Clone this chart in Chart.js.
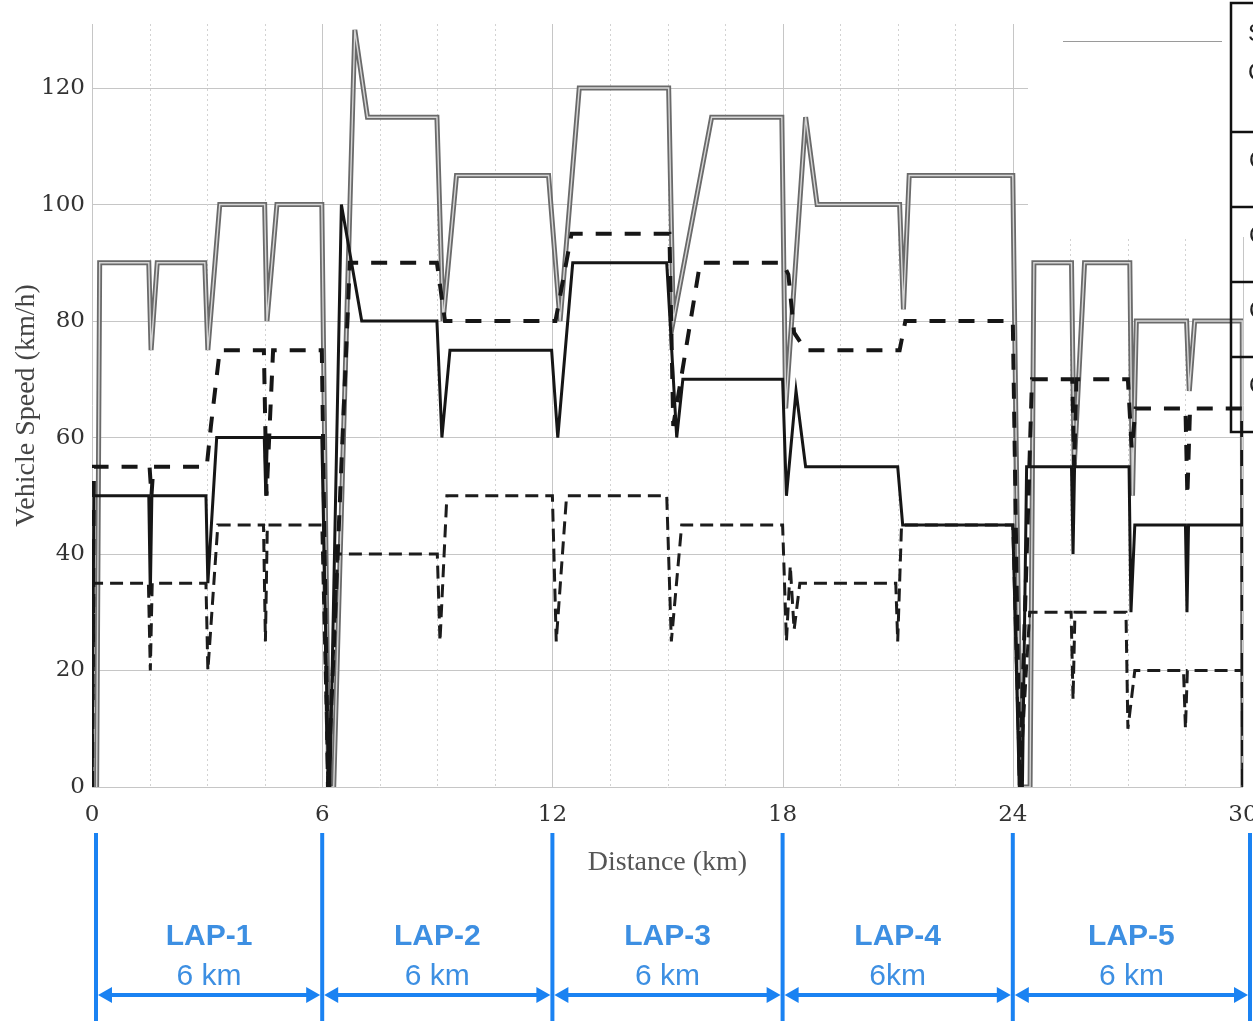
<!DOCTYPE html>
<html>
<head>
<meta charset="utf-8">
<title>Vehicle speed over five laps</title>
<script src="https://cdn.jsdelivr.net/npm/chart.js@4.4.1/dist/chart.umd.min.js"></script>
<style>
  html, body { margin: 0; padding: 0; background: #ffffff; }
  #wrap { width: 1253px; height: 1023px; position: relative; }
</style>
</head>
<body>
<div id="wrap"><canvas id="speedChart" width="1253" height="1023"></canvas></div>
<script>
// ---- Data (distance in km, speed in km/h) ----
// Upper speed profile (grey double line)
const upperDist  = [0.12, 0.2, 1.48, 1.54, 1.7, 2.94, 3.02, 3.33, 4.5, 4.56, 4.82, 5.99, 6.17, 6.3, 6.85, 7.18, 8.99, 9.15, 9.5, 11.9, 12.2, 12.7, 15.03, 15.15, 16.15, 17.98, 18.08, 18.6, 18.9, 21.05, 21.15, 21.3, 24.0, 24.2, 24.45, 24.55, 25.53, 25.6, 25.87, 27.05, 27.12, 27.22, 28.53, 28.6, 28.74, 29.98, 30.0];
const upperSpeed = [0, 90, 90, 75, 90, 90, 75, 100, 100, 80, 100, 100, 0, 0, 130, 115, 115, 80, 105, 105, 80, 120, 120, 80, 115, 115, 65, 115, 100, 100, 82, 105, 105, 0, 0, 90, 90, 55, 90, 90, 50, 80, 80, 68, 80, 80, 0];

// Heavy dashed profile
const highDist  = [0, 0.05, 1.5, 1.55, 1.6, 2.99, 3.1, 3.33, 4.48, 4.55, 4.72, 5.99, 6.15, 6.72, 8.99, 9.2, 12.08, 12.5, 15.05, 15.15, 15.85, 18.0, 18.15, 18.3, 18.6, 21.05, 21.2, 24.0, 24.18, 24.5, 25.55, 25.6, 25.66, 27.0, 27.1, 27.2, 28.5, 28.55, 28.62, 29.98, 30.0];
const highSpeed = [0, 55, 55, 50, 55, 55, 62, 75, 75, 50, 75, 75, 0, 90, 90, 80, 80, 95, 95, 62, 90, 90, 88, 78, 75, 75, 80, 80, 0, 70, 70, 55, 70, 70, 58, 65, 65, 50, 65, 65, 0];

// Solid black profile
const midDist  = [0, 0.05, 1.48, 1.52, 1.56, 2.97, 3.02, 3.25, 4.49, 4.53, 4.57, 5.99, 6.17, 6.2, 6.5, 7.03, 8.99, 9.12, 9.33, 11.98, 12.14, 12.53, 14.98, 15.24, 15.4, 18.0, 18.1, 18.35, 18.6, 21.0, 21.13, 24.0, 24.17, 24.25, 24.36, 25.53, 25.57, 25.61, 27.03, 27.08, 27.18, 28.5, 28.54, 28.58, 30.0];
const midSpeed = [0, 50, 50, 33, 50, 50, 35, 60, 60, 50, 60, 60, 0, 0, 100, 80, 80, 60, 75, 75, 60, 90, 90, 60, 70, 70, 50, 68, 55, 55, 45, 45, 0, 0, 55, 55, 40, 55, 55, 30, 45, 45, 30, 45, 45];

// Lower dashed profile
const lowDist  = [0, 0.05, 1.47, 1.52, 1.57, 2.97, 3.02, 3.28, 4.47, 4.52, 4.57, 5.99, 6.15, 6.4, 9.0, 9.07, 9.25, 12.0, 12.1, 12.37, 14.98, 15.1, 15.37, 18.0, 18.1, 18.2, 18.3, 18.45, 20.95, 21.0, 21.1, 24.0, 24.18, 24.44, 25.52, 25.57, 25.62, 26.95, 27.0, 27.18, 28.45, 28.5, 28.55, 29.98, 30.0];
const lowSpeed = [0, 35, 35, 20, 35, 35, 20, 45, 45, 25, 45, 45, 0, 40, 40, 25, 50, 50, 25, 50, 50, 25, 45, 45, 25, 38, 27, 35, 35, 25, 45, 45, 0, 30, 30, 15, 30, 30, 10, 20, 20, 10, 20, 20, 0];

// Axis ticks and lap annotation
const xTickStep   = 1.5;
const xLabelEvery = 6;
const yTickStep   = 20;
const lapBounds   = [0, 6, 12, 18, 24, 30];
const lapNames    = ['LAP-1', 'LAP-2', 'LAP-3', 'LAP-4', 'LAP-5'];
const lapLengths  = ['6 km', '6 km', '6 km', '6km', '6 km'];
const tableLabels = [['S', 'C'], ['C'], ['C'], ['C'], ['C']];

const toPoints = (xs, ys) => xs.map((x, i) => ({ x, y: ys[i] }));

const SERIF = '"Liberation Serif", "DejaVu Serif", serif';
const TICK_SERIF = '"DejaVu Serif", "Liberation Serif", serif';
const SANS  = '"Liberation Sans", Arial, sans-serif';

// Vertical grid: dotted every 1.5 km, solid at every lap boundary.
// Also a white legend panel in the top-right corner with its sample line.
const backdropPlugin = {
  id: 'backdrop',
  beforeDatasetsDraw(chart) {
    const { ctx, chartArea: a, scales: { x } } = chart;
    ctx.save();
    x.ticks.forEach(t => {
      const px = Math.round(x.getPixelForValue(t.value)) + 0.5;
      const major = Math.abs(t.value % xLabelEvery) < 1e-6;
      ctx.beginPath();
      ctx.setLineDash(major ? [] : [2, 3]);
      ctx.strokeStyle = major ? '#c6c6c6' : '#d2d2d2';
      ctx.lineWidth = 1;
      ctx.moveTo(px, a.top);
      ctx.lineTo(px, a.bottom);
      ctx.stroke();
    });
    ctx.setLineDash([]);
    // legend panel
    ctx.fillStyle = '#ffffff';
    ctx.fillRect(1028, 0, chart.width - 1028, 237);
    ctx.strokeStyle = '#9a9a9a';
    ctx.lineWidth = 1.2;
    ctx.beginPath();
    ctx.moveTo(1063, 41.5);
    ctx.lineTo(1222, 41.5);
    ctx.stroke();
    ctx.restore();
  }
};

// Bordered legend table on the right edge and the blue lap markers below the axis.
const overlayPlugin = {
  id: 'overlay',
  afterDraw(chart) {
    const { ctx, scales: { x } } = chart;
    ctx.save();

    // legend table
    ctx.strokeStyle = '#111111';
    ctx.lineWidth = 2.5;
    const rows = [3, 132, 207, 282, 357, 432];
    ctx.strokeRect(1231, rows[0], 60, rows[rows.length - 1] - rows[0]);
    for (let i = 1; i < rows.length - 1; i++) {
      ctx.beginPath();
      ctx.moveTo(1231, rows[i]);
      ctx.lineTo(chart.width + 5, rows[i]);
      ctx.stroke();
    }
    ctx.fillStyle = '#222222';
    ctx.font = '24px ' + SANS;
    ctx.textBaseline = 'middle';
    ctx.textAlign = 'left';
    tableLabels.forEach((lines, r) => {
      if (lines.length === 2) {
        ctx.fillText(lines[0], 1248, rows[r] + 31);
        ctx.fillText(lines[1], 1248, rows[r] + 70);
      } else {
        ctx.fillText(lines[0], 1249, (rows[r] + rows[r + 1]) / 2 - 8);
      }
    });

    // lap markers
    const blue = '#1a82f2';
    const textBlue = '#3d8fe2';
    const px = lapBounds.map(b => x.getPixelForValue(b));
    px[0] += 4;
    px[px.length - 1] = Math.min(px[px.length - 1] + 7, chart.width - 2);
    ctx.strokeStyle = blue;
    ctx.fillStyle = blue;
    ctx.lineWidth = 4;
    px.forEach(p => {
      ctx.beginPath();
      ctx.moveTo(p, 833);
      ctx.lineTo(p, 1021);
      ctx.stroke();
    });
    const ay = 995, head = 14, half = 8;
    for (let i = 0; i < px.length - 1; i++) {
      const l = px[i] + 2, r = px[i + 1] - 2;
      ctx.beginPath();
      ctx.moveTo(l + head - 2, ay);
      ctx.lineTo(r - head + 2, ay);
      ctx.stroke();
      ctx.beginPath();
      ctx.moveTo(l, ay);
      ctx.lineTo(l + head, ay - half);
      ctx.lineTo(l + head, ay + half);
      ctx.closePath();
      ctx.fill();
      ctx.beginPath();
      ctx.moveTo(r, ay);
      ctx.lineTo(r - head, ay - half);
      ctx.lineTo(r - head, ay + half);
      ctx.closePath();
      ctx.fill();
    }
    ctx.fillStyle = textBlue;
    ctx.textAlign = 'center';
    ctx.textBaseline = 'middle';
    for (let i = 0; i < lapNames.length; i++) {
      const cx = (px[i] + px[i + 1]) / 2;
      ctx.font = 'bold 30px ' + SANS;
      ctx.fillText(lapNames[i], cx, 937);
      ctx.font = '30px ' + SANS;
      ctx.fillText(lapLengths[i], cx, 977);
    }
    ctx.restore();
  }
};

const line = (data, color, width, dash) => ({
  data, borderColor: color, borderWidth: width, borderDash: dash || [],
  pointRadius: 0, tension: 0, fill: false, borderJoinStyle: 'miter', borderCapStyle: 'butt'
});

new Chart(document.getElementById('speedChart'), {
  type: 'line',
  data: {
    datasets: [
      line(toPoints(midDist, midSpeed), '#161616', 3),
      line(toPoints(highDist, highSpeed), '#161616', 4, [16, 13]),
      line(toPoints(lowDist, lowSpeed), '#1c1c1c', 3, [13, 7]),
      line(toPoints(upperDist, upperSpeed), '#d6d6d6', 1.4),
      line(toPoints(upperDist, upperSpeed), '#6a6a6a', 5)
    ]
  },
  options: {
    responsive: false,
    animation: false,
    layout: { padding: { top: 24, right: 10, left: 0, bottom: 0 } },
    plugins: { legend: { display: false }, tooltip: { enabled: false } },
    scales: {
      x: {
        type: 'linear',
        min: 0,
        max: 30,
        grid: { display: false, drawTicks: false },
        border: { display: false },
        ticks: {
          stepSize: xTickStep,
          autoSkip: false,
          maxRotation: 0,
          includeBounds: false,
          padding: 14,
          color: '#333333',
          font: { family: TICK_SERIF, size: 23 },
          callback: v => (Math.abs(v % xLabelEvery) < 1e-6 ? String(v) : '')
        },
        title: {
          display: true,
          text: 'Distance (km)',
          color: '#555555',
          font: { family: SERIF, size: 28 },
          padding: { top: 0, bottom: 144 }
        },
        afterFit(s) { s.height = 236; s.paddingLeft = 0; s.paddingRight = 0; }
      },
      y: {
        min: 0,
        max: 131,
        grid: { color: '#c6c6c6', lineWidth: 1, drawTicks: false },
        border: { display: false },
        ticks: {
          stepSize: yTickStep,
          includeBounds: false,
          padding: 7,
          color: '#333333',
          font: { family: TICK_SERIF, size: 23 }
        },
        title: {
          display: true,
          text: 'Vehicle Speed (km/h)',
          color: '#444444',
          font: { family: SERIF, size: 28 },
          padding: { top: 10, bottom: 0 }
        },
        afterFit(s) { s.width = 92; s.paddingTop = 0; s.paddingBottom = 0; }
      }
    }
  },
  plugins: [backdropPlugin, overlayPlugin]
});
</script>
</body>
</html>
